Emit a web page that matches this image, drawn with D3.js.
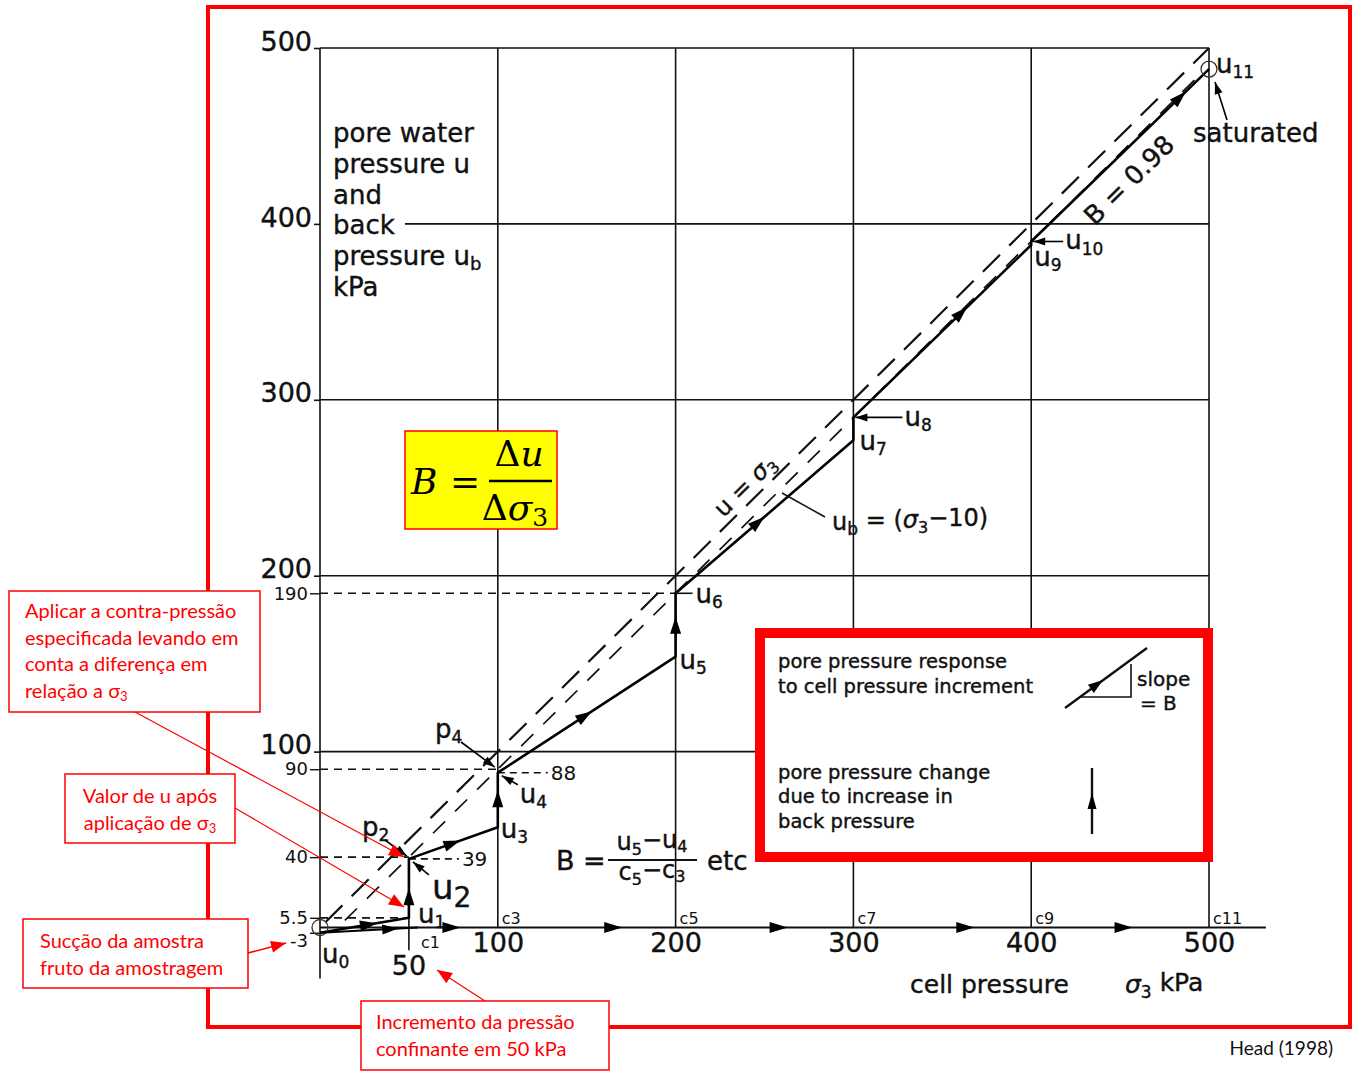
<!DOCTYPE html>
<html>
<head>
<meta charset="utf-8">
<script src="https://cdn.jsdelivr.net/npm/d3@7"></script>
<style>
  body { margin: 0; background: #fff; }
  svg { display: block; }
</style>
</head>
<body>
<svg id="chart" width="1353" height="1073"></svg>
<script>
// --- data ---
const gridValues = [100, 200, 300, 400, 500];
const cellLabels = ["c3", "c5", "c7", "c9", "c11"];
// pore pressure path u0 .. u11 (cell pressure sigma3, pore pressure u), kPa
const stepSigma = [0, 50, 50, 100, 100, 200, 200, 300, 300, 400, 400, 500];
const stepU = [-3, 5.5, 39, 57, 88, 154, 190, 277, 290, 388, 390, 488];
const stepNames = ["0", "1", "2", "3", "4", "5", "6", "7", "8", "9", "10", "11"];
// dashed reference levels read on the u axis
const refU = [190, 90, 40, 5.5];
const refSigma = [200, 100, 50, 50];
const minorTickValues = [190, 90, 40, 5.5, -3];
const minorTickLabels = ["190", "90", "40", "5.5", "-3"];
// measured u just below the back pressure
const measuredU = [39, 88];
const measuredSigma = [50, 100];
// cell pressure arrows along the axis
const axisArrowSigma = [79, 170, 263, 368, 457];

// --- setup ---
const svg = d3.select("#chart");
const font = "'DejaVu Sans', sans-serif";
const ink = "#111";
const x = d3.scaleLinear().domain([0, 500]).range([320, 1209]);
const y = d3.scaleLinear().domain([0, 500]).range([927.5, 48]);

function arrowHead(g, tx, ty, ang, len = 15, half = 5, color = "#000") {
  const c = Math.cos(ang), s = Math.sin(ang);
  const bx = tx - c * len, by = ty - s * len;
  g.append("path")
    .attr("d", `M${tx},${ty}L${bx - s * half},${by + c * half}L${bx + s * half},${by - c * half}Z`)
    .attr("fill", color);
}
function lineArrow(g, x1, y1, x2, y2, opts = {}) {
  g.append("line").attr("x1", x1).attr("y1", y1).attr("x2", x2).attr("y2", y2)
    .attr("stroke", opts.color || "#000").attr("stroke-width", opts.w || 1.5);
  arrowHead(g, x2, y2, Math.atan2(y2 - y1, x2 - x1), opts.len || 12, opts.half || 4, opts.color || "#000");
}
function sub(t, main, s, size) {
  t.append("tspan").text(main);
  t.append("tspan").text(s).attr("font-size", size).attr("dy", "0.3em");
}

// --- grid ---
const grid = svg.append("g").attr("stroke", ink).attr("stroke-width", 1.6);
grid.selectAll(".v").data(gridValues).join("line")
  .attr("x1", d => x(d)).attr("x2", d => x(d))
  .attr("y1", y(500)).attr("y2", y(0));
grid.selectAll(".h").data(gridValues).join("line")
  .attr("x1", d => d === 400 ? 405 : x(0)).attr("x2", x(500))
  .attr("y1", d => y(d)).attr("y2", d => y(d));
// y axis and x axis lines
grid.append("line").attr("x1", x(0)).attr("x2", x(0)).attr("y1", y(500)).attr("y2", y(-29));
grid.append("line").attr("x1", x(0)).attr("x2", x(532)).attr("y1", y(0)).attr("y2", y(0)).attr("stroke-width", 2);
// c1 tick
grid.append("line").attr("x1", x(50)).attr("x2", x(50)).attr("y1", y(10)).attr("y2", y(-13));

// --- axes ---
const yAxis = svg.append("g").attr("transform", `translate(${x(0)},0)`)
  .call(d3.axisLeft(y).tickValues(gridValues).tickSize(6).tickPadding(2));
yAxis.select(".domain").remove();
yAxis.selectAll("line").attr("stroke", ink).attr("stroke-width", 1.6);
yAxis.selectAll("text").attr("font-family", font).attr("font-size", 27).attr("fill", ink)
  .attr("dy", "0.08em").attr("stroke", ink).attr("stroke-width", 0.4);

const yMinor = svg.append("g").attr("transform", `translate(${x(0)},0)`)
  .call(d3.axisLeft(y).tickValues(minorTickValues).tickSize(10).tickPadding(2)
    .tickFormat((d, i) => minorTickLabels[i]));
yMinor.select(".domain").remove();
yMinor.selectAll("line").attr("stroke", ink).attr("stroke-width", 1.4);
yMinor.selectAll("text").attr("font-family", font).attr("font-size", 18).attr("fill", ink)
  .attr("dy", d => d < 0 ? "0.75em" : "0.32em");

const xAxis = svg.append("g").attr("transform", `translate(0,${y(0)})`)
  .call(d3.axisBottom(x).tickValues(gridValues).tickSize(0).tickPadding(5));
xAxis.select(".domain").remove();
xAxis.selectAll("text").attr("font-family", font).attr("font-size", 27).attr("fill", ink)
  .attr("stroke", ink).attr("stroke-width", 0.4);
svg.append("text").attr("x", x(50)).attr("y", y(0) + 47).attr("text-anchor", "middle")
  .attr("font-family", font).attr("font-size", 27).attr("fill", ink)
  .attr("stroke", ink).attr("stroke-width", 0.4).text("50");

// cell labels c1..c11
svg.selectAll(".cl").data(gridValues).join("text")
  .attr("x", d => x(d) + 4).attr("y", y(0) - 4)
  .attr("font-family", font).attr("font-size", 16).attr("fill", ink)
  .text((d, i) => cellLabels[i]);
svg.append("text").attr("x", x(50) + 12).attr("y", y(0) + 20)
  .attr("font-family", font).attr("font-size", 16).attr("fill", ink).text("c1");

// axis arrows
const arrows = svg.append("g");
axisArrowSigma.forEach(s => arrowHead(arrows, x(s), y(0), 0, 18, 5.5));

// axis titles
const bold = t => t.attr("stroke", ink).attr("stroke-width", 0.4);
bold(svg.append("text").attr("x", 910).attr("y", 993).attr("font-family", font)
  .attr("font-size", 25).attr("fill", ink).text("cell pressure"));
const st = bold(svg.append("text").attr("x", 1125).attr("y", 993).attr("font-family", font)
  .attr("font-size", 25).attr("fill", ink));
st.append("tspan").text("σ").attr("font-style", "italic");
st.append("tspan").text("3").attr("font-size", 17).attr("dy", "0.3em");
st.append("tspan").text(" kPa").attr("dy", "-0.3em");

const yTitle = ["pore water", "pressure u", "and", "back", "pressure u", "kPa"];
const yt = bold(svg.append("text").attr("font-family", font).attr("font-size", 26).attr("fill", ink));
yTitle.forEach((l, i) => {
  yt.append("tspan").attr("x", 333).attr("y", 142 + i * 30.8).text(l);
  if (i === 4) yt.append("tspan").attr("font-size", 18).attr("dy", "0.25em").text("b");
});

// --- reference dashed lines ---
const dash = svg.append("g").attr("stroke", ink).attr("fill", "none");
dash.selectAll(".ref").data(refU).join("line")
  .attr("x1", x(0)).attr("x2", (d, i) => x(refSigma[i]))
  .attr("y1", d => y(d)).attr("y2", d => y(d))
  .attr("stroke-width", 1.6).attr("stroke-dasharray", "8,6");
dash.selectAll(".meas").data(measuredU).join("line")
  .attr("x1", (d, i) => x(measuredSigma[i])).attr("x2", (d, i) => x(measuredSigma[i]) + 50)
  .attr("y1", d => y(d)).attr("y2", d => y(d))
  .attr("stroke-width", 1.6).attr("stroke-dasharray", "7,5");
svg.selectAll(".measl").data(measuredU).join("text")
  .attr("x", (d, i) => x(measuredSigma[i]) + 53).attr("y", d => y(d) + 7)
  .attr("font-family", font).attr("font-size", 20).attr("fill", ink).text(d => d);

// u = sigma3 and ub = sigma3 - 10
dash.append("line").attr("x1", x(3)).attr("y1", y(3)).attr("x2", x(500)).attr("y2", y(500))
  .attr("stroke-width", 2.2).attr("stroke-dasharray", "24,13");
dash.append("line").attr("x1", x(14)).attr("y1", y(4)).attr("x2", x(497)).attr("y2", y(487))
  .attr("stroke-width", 1.7).attr("stroke-dasharray", "17,14");

// --- pore pressure path ---
const pts = stepSigma.map((s, i) => [x(s), y(stepU[i])]);
svg.append("path").attr("d", d3.line()(pts))
  .attr("fill", "none").attr("stroke", "#000").attr("stroke-width", 2.6).attr("stroke-linejoin", "round");
const segArrowAt = [0.64, 0.5, 0.58, 0.68, 0.53, 0.63, 0.5, 0, 0.64, 0, 0.87];
const pa = svg.append("g");
segArrowAt.forEach((t, i) => {
  if (!t) return;
  const [x1, y1] = pts[i], [x2, y2] = pts[i + 1];
  arrowHead(pa, x1 + t * (x2 - x1), y1 + t * (y2 - y1), Math.atan2(y2 - y1, x2 - x1), 17, 5.5);
});
// circles at u0 and u11
svg.append("circle").attr("cx", pts[0][0]).attr("cy", y(0)).attr("r", 8)
  .attr("fill", "none").attr("stroke", "#333").attr("stroke-width", 1.3);
svg.append("circle").attr("cx", pts[11][0]).attr("cy", pts[11][1]).attr("r", 8)
  .attr("fill", "none").attr("stroke", "#333").attr("stroke-width", 1.3);
// sample suction to cell line
svg.append("line").attr("x1", pts[0][0]).attr("y1", pts[0][1]).attr("x2", x(55)).attr("y2", y(0))
  .attr("stroke", "#000").attr("stroke-width", 2);
arrowHead(svg, x(44), y(-0.6), Math.atan2(y(0) - pts[0][1], x(55) - pts[0][0]), 16, 5);

// point labels
const lab = bold(svg.append("g").attr("font-family", font).attr("fill", ink));
const labOff = [[2, 30], [9, 5], [23, 40], [3, 11], [22, 30], [4, 12], [20, 10], [6, 10], [51, 9], [3, 21], [34, 8], [7, 4]];
stepNames.forEach((n, i) => {
  const big = i === 2;
  const t = lab.append("text").attr("x", pts[i][0] + labOff[i][0]).attr("y", pts[i][1] + labOff[i][1])
    .attr("font-size", big ? 34 : 26);
  sub(t, "u", n, big ? 28 : 17);
});
// leaders into points
lineArrow(svg, x(50) + 20, y(39) + 16, x(50) + 4, y(39) + 3, { w: 1.6 });
lineArrow(svg, x(100) + 20, y(88) + 12, x(100) + 4, y(88) + 3, { w: 1.6 });
lineArrow(svg, pts[8][0] + 49, pts[8][1], pts[8][0] + 2, pts[8][1], { w: 1.6 });
lineArrow(svg, pts[10][0] + 32, pts[10][1], pts[10][0] + 2, pts[10][1], { w: 1.6 });
svg.append("line").attr("x1", pts[6][0]).attr("x2", pts[6][0] + 17).attr("y1", pts[6][1]).attr("y2", pts[6][1])
  .attr("stroke", ink).attr("stroke-width", 1.6);

// back pressure points p2, p4
const p2 = lab.append("text").attr("x", 362).attr("y", 836).attr("font-size", 26);
sub(p2, "p", "2", 17);
lineArrow(svg, 385, 840, x(50) - 2, y(40) - 1, { w: 1.6 });
const p4 = lab.append("text").attr("x", 435).attr("y", 738).attr("font-size", 26);
sub(p4, "p", "4", 17);
lineArrow(svg, 461, 742, x(100) - 3, y(90) - 2, { w: 1.6 });

// saturated
lab.append("text").attr("x", 1193).attr("y", 142).attr("font-size", 26).text("saturated");
lineArrow(svg, 1227, 120, 1215, 82, { w: 1.6 });

// rotated labels
const ang = Math.atan2(y(500) - y(0), x(500) - x(0)) * 180 / Math.PI;
lab.append("text").attr("transform", `translate(1129,180) rotate(${ang})`)
  .attr("text-anchor", "middle").attr("font-size", 26).attr("dy", "0.35em").text("B = 0.98");
const us = lab.append("text").attr("transform", `translate(${x(245) - 3},${y(245) - 3}) rotate(${ang})`)
  .attr("text-anchor", "middle").attr("font-size", 24).attr("dy", "-0.12em");
us.append("tspan").text("u = ");
us.append("tspan").text("σ").attr("font-style", "italic");
us.append("tspan").text("3").attr("font-size", 16).attr("dy", "0.3em");

const ub = lab.append("text").attr("x", 832).attr("y", 530).attr("font-size", 24);
ub.append("tspan").text("u");
ub.append("tspan").text("b").attr("font-size", 17).attr("dy", "0.3em");
ub.append("tspan").text(" = (").attr("dy", "-0.3em");
ub.append("tspan").text("σ").attr("font-style", "italic");
ub.append("tspan").text("3").attr("font-size", 16).attr("dy", "0.3em");
ub.append("tspan").text("−10)").attr("dy", "-0.3em");
svg.append("line").attr("x1", 825).attr("y1", 517).attr("x2", 782).attr("y2", 493)
  .attr("stroke", ink).attr("stroke-width", 1.5);

// B = (u5-u4)/(c5-c3) etc
lab.append("text").attr("x", 556).attr("y", 870).attr("font-size", 27).text("B =");
const num = lab.append("text").attr("x", 652).attr("y", 850).attr("font-size", 24).attr("text-anchor", "middle");
num.append("tspan").text("u"); num.append("tspan").text("5").attr("font-size", 16).attr("dy", "0.3em");
num.append("tspan").text("−u").attr("dy", "-0.3em"); num.append("tspan").text("4").attr("font-size", 16).attr("dy", "0.3em");
const den = lab.append("text").attr("x", 652).attr("y", 880).attr("font-size", 24).attr("text-anchor", "middle");
den.append("tspan").text("c"); den.append("tspan").text("5").attr("font-size", 16).attr("dy", "0.3em");
den.append("tspan").text("−c").attr("dy", "-0.3em"); den.append("tspan").text("3").attr("font-size", 16).attr("dy", "0.3em");
svg.append("line").attr("x1", 608).attr("x2", 697).attr("y1", 860).attr("y2", 860).attr("stroke", ink).attr("stroke-width", 2);
lab.append("text").attr("x", 707).attr("y", 870).attr("font-size", 26).text("etc");

// --- formula box ---
svg.append("rect").attr("x", 405).attr("y", 431).attr("width", 152).attr("height", 98)
  .attr("fill", "#ffff00").attr("stroke", "#ff0000").attr("stroke-width", 1.5);
const serif = "'DejaVu Serif', 'Liberation Serif', serif";
svg.append("text").attr("x", 411).attr("y", 494).attr("font-family", serif).attr("font-style", "italic")
  .attr("font-size", 36).text("B");
svg.append("text").attr("x", 450).attr("y", 494).attr("font-family", serif).attr("font-size", 36).text("=");
const fn = svg.append("text").attr("x", 519).attr("y", 466).attr("text-anchor", "middle").attr("font-family", serif).attr("font-size", 36);
fn.append("tspan").text("Δ"); fn.append("tspan").text("u").attr("font-style", "italic");
svg.append("line").attr("x1", 489).attr("x2", 552).attr("y1", 481).attr("y2", 481).attr("stroke", "#000").attr("stroke-width", 2.5);
const fd = svg.append("text").attr("x", 515).attr("y", 520).attr("text-anchor", "middle").attr("font-family", serif).attr("font-size", 36);
fd.append("tspan").text("Δ"); fd.append("tspan").text("σ").attr("font-style", "italic");
fd.append("tspan").text("3").attr("font-size", 25).attr("dy", "0.25em");

// --- legend box ---
const lg = svg.append("g");
lg.append("rect").attr("x", 760).attr("y", 633).attr("width", 448).attr("height", 224)
  .attr("fill", "#fff").attr("stroke", "#ff0000").attr("stroke-width", 10);
const lgt = bold(lg.append("text").attr("font-family", font).attr("font-size", 19.5).attr("fill", ink));
[["pore pressure response", 668], ["to cell pressure increment", 693], ["pore pressure change", 779],
 ["due to increase in", 803], ["back pressure", 828]].forEach(([t, yy]) =>
  lgt.append("tspan").attr("x", 778).attr("y", yy).text(t));
lg.append("line").attr("x1", 1065).attr("y1", 708).attr("x2", 1147).attr("y2", 648).attr("stroke", ink).attr("stroke-width", 2.4);
arrowHead(lg, 1103, 680, Math.atan2(-60, 82), 15, 5);
lg.append("path").attr("d", "M1081,697H1131V664").attr("fill", "none").attr("stroke", ink).attr("stroke-width", 1.6);
bold(lg.append("text").attr("x", 1137).attr("y", 686).attr("font-family", font).attr("font-size", 20).attr("fill", ink).text("slope"));
bold(lg.append("text").attr("x", 1140).attr("y", 710).attr("font-family", font).attr("font-size", 20).attr("fill", ink).text("= B"));
lg.append("line").attr("x1", 1092).attr("y1", 834).attr("x2", 1092).attr("y2", 768).attr("stroke", ink).attr("stroke-width", 2.4);
arrowHead(lg, 1092, 793, -Math.PI / 2, 16, 4.5);

// --- outer frame and notes ---
svg.append("rect").attr("x", 208).attr("y", 7).attr("width", 1142).attr("height", 1020)
  .attr("fill", "none").attr("stroke", "#ff0000").attr("stroke-width", 4);

const red = "#ff0000";
const noteFont = "Lato, 'Open Sans', sans-serif";
function note(bx, by, bw, bh, lines, tx, ty, anchor) {
  svg.append("rect").attr("x", bx).attr("y", by).attr("width", bw).attr("height", bh)
    .attr("fill", "#fff").attr("stroke", red).attr("stroke-width", 1.5);
  const t = svg.append("text").attr("font-family", noteFont).attr("font-size", 20).attr("fill", red)
    .attr("text-anchor", anchor || "start");
  lines.forEach((l, i) => {
    const ts = t.append("tspan").attr("x", tx).attr("y", ty + i * 26.5);
    if (l.endsWith("σ3")) {
      ts.text(l.slice(0, -2));
      t.append("tspan").text("σ");
      t.append("tspan").text("3").attr("font-size", 13).attr("dy", "0.3em");
    } else ts.text(l);
  });
}
note(9, 591, 251, 121, ["Aplicar a contra-pressão", "especificada levando em", "conta a diferença em", "relação a σ3"], 25, 618);
note(65, 774, 170, 69, ["Valor de u após", "aplicação de σ3"], 150, 803, "middle");
note(23, 919, 225, 69, ["Sucção da amostra", "fruto da amostragem"], 40, 948);
note(361, 1001, 248, 69, ["Incremento da pressão", "confinante em 50 kPa"], 376, 1029);
lineArrow(svg, 135, 712, 404, 857, { color: red, w: 1.2, len: 15, half: 6 });
lineArrow(svg, 235, 808, 404, 907, { color: red, w: 1.2, len: 15, half: 6 });
lineArrow(svg, 248, 953, 286, 943, { color: red, w: 1.5, len: 15, half: 6 });
lineArrow(svg, 485, 1001, 437, 970, { color: red, w: 1.2, len: 15, half: 6 });

svg.append("text").attr("x", 1333).attr("y", 1055).attr("text-anchor", "end")
  .attr("font-family", noteFont).attr("font-size", 19).attr("fill", ink).text("Head (1998)");
</script>
</body>
</html>
